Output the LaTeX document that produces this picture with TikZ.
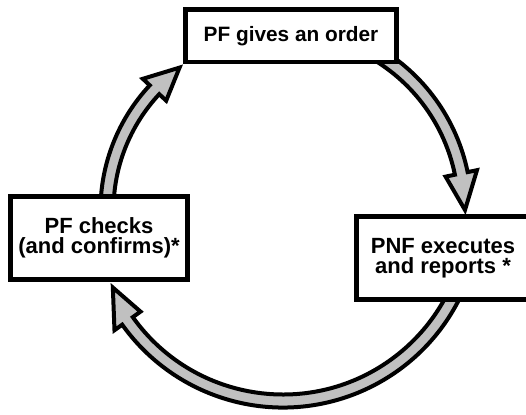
\documentclass[tikz,border=0pt]{standalone}
\usepackage{fontspec}
\setmainfont{Liberation Sans}
\definecolor{arrowgray}{RGB}{192,192,192}
\tikzset{
  box/.style={draw=black, line width=4.5pt, fill=white, inner sep=0pt, align=center},
  ringarrow/.style={fill=arrowgray, draw=black, line width=4pt, line join=miter},
}
% #1 radius, #2 tail angle, #3 head-base angle, #4 tip angle, #5 tip radius
\newcommand{\ringarrow}[5]{%
  \filldraw[ringarrow] (#2:#1+6.5) arc[start angle=#2, end angle=#3, radius=#1+6.5]
    -- (#3:#1+16) -- (#4:#5) -- (#3:#1-16) -- (#3:#1-6.5)
    arc[start angle=#3, end angle=#2, radius=#1-6.5] -- cycle;}
\begin{document}
\begin{tikzpicture}[x=1pt,y=-1pt]
\useasboundingbox (0,0) rectangle (526,414);
\clip (0,0) rectangle (526,414);
\fill[white] (0,0) rectangle (526,414);
\coordinate (c) at (283,210);
\begin{scope}[shift={(c)}]
  \ringarrow{182}{-60}{-11.6}{0}{182}
  \ringarrow{191}{20}{144.5}{155.5}{187}
  \ringarrow{176}{180}{223.1}{234}{176}
\end{scope}
\node[box, minimum width=211pt, minimum height=52.5pt,
      font=\bfseries\fontsize{20.8}{21}\selectfont] (order) at (291,35.75) {PF gives an order};
\node[box, minimum width=177pt, minimum height=83pt,
      font=\bfseries\fontsize{22}{20}\selectfont] (check) at (99,238) {PF checks\\(and confirms)*};
\node[box, minimum width=173pt, minimum height=83pt,
      font=\bfseries\fontsize{22}{20}\selectfont] (exec) at (443,258) {PNF executes\\and reports *};
\end{tikzpicture}
\end{document}
